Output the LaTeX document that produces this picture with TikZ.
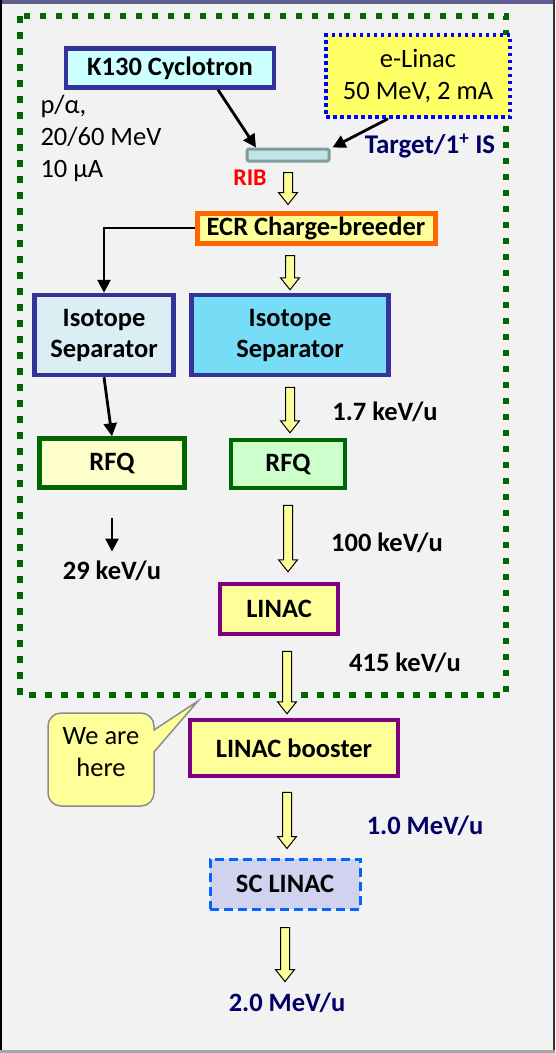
\documentclass[tikz,border=0pt]{standalone}
\usepackage{fontspec}
\setmainfont{Carlito}
\usetikzlibrary{calc, arrows.meta}

\definecolor{bgcol}{HTML}{F2F2F2}
\definecolor{bandcol}{HTML}{5F5F8F}
\definecolor{navyline}{HTML}{333399}
\definecolor{navytext}{HTML}{000066}
\definecolor{dkgreen}{HTML}{006600}
\definecolor{paleyellow}{HTML}{FFFF99}
\definecolor{brightyellow}{HTML}{FFFF66}
\definecolor{creamyellow}{HTML}{FFFFCC}
\definecolor{palecyan}{HTML}{CCFFFF}
\definecolor{isogrey}{HTML}{DAEEF3}
\definecolor{isocyan}{HTML}{77DDF7}
\definecolor{mint}{HTML}{CCFFCC}
\definecolor{ecrorange}{HTML}{FF6600}
\definecolor{linacpurple}{HTML}{800080}
\definecolor{lavender}{HTML}{D0D2F0}
\definecolor{scblue}{HTML}{0066FF}
\definecolor{barfill}{HTML}{C2E4E4}
\definecolor{barline}{HTML}{809C9C}

\newcommand{\lblfont}{\fontsize{26.5}{31}\selectfont\bfseries}
\newcommand{\txtfont}{\fontsize{26.5}{32}\selectfont}

\begin{document}
\begin{tikzpicture}[x=1pt, y=-1pt,
    box/.style={line width=4.5pt, inner sep=0pt, font=\lblfont, align=center},
    blk/.style={line width=2.8pt, -{Triangle[length=13pt,width=13pt]}},
    fatarrow/.style={draw=black, line width=1pt, fill=paleyellow, line join=miter,
      to path={let \p1=(\tikztostart), \p2=(\tikztotarget) in
        (\x1-4.5pt,\y1) -- (\x1-4.5pt,\y2+12pt) -- (\x1-9.5pt,\y2+12pt) -- (\x1,\y2)
        -- (\x1+9.5pt,\y2+12pt) -- (\x1+4.5pt,\y2+12pt) -- (\x1+4.5pt,\y1) -- cycle}},
    energy/.style={font=\lblfont},
    greendots/.style={draw=dkgreen, line width=6.5pt, dash pattern=on 6.5pt off 9.5pt}]

    % --- background and frame ---
    \useasboundingbox (0,0) rectangle (555,1053);
    \fill[bgcol] (0,0) rectangle (555,1053);
    \fill[bandcol] (0,0) rectangle (555,3.5);
    \draw[black, line width=2pt] (1,0) -- (1,1053);
    \draw[black!80, line width=2pt] (554,0) -- (554,1053);
    \draw[black!35, line width=3pt] (0,1051.5) -- (555,1051.5);

    % --- dotted green frame ---
    \draw[greendots] (20,16) rectangle (506,695);

    % --- sources ---
    \node[box, draw=navyline, fill=palecyan, minimum width=208pt, minimum height=39pt]
        (k130) at (170,68) {K130 Cyclotron};
    \node[box, draw=blue, fill=brightyellow, line width=3.5pt, dash pattern=on 3.5pt off 3.5pt,
        font=\txtfont, minimum width=184pt, minimum height=82pt]
        (elinac) at (418,76) {e-Linac\\50 MeV, 2 mA};
    \node[font=\txtfont, align=left, anchor=west] (beam) at (37,138) {p/α,\\20/60 MeV\\10 μA};

    % --- target ---
    \node[draw=barline, fill=barfill, line width=3pt, rounded corners=1.5pt,
        minimum width=82pt, minimum height=12pt, inner sep=0pt] (target) at (288,155) {};
    \node[font=\fontsize{24}{28}\selectfont\bfseries, text=red] (rib) at (250,178) {RIB};
    \node[font=\fontsize{27}{32}\selectfont\bfseries, text=navytext] (tis) at (430,146)
        {Target/1\textsuperscript{+} IS};

    \draw[blk] ([xshift=48pt]k130.south) -- ([xshift=-32pt]target.north);
    \draw[blk] ([xshift=-30pt]elinac.south) -- ([xshift=2pt]target.north east);

    % --- charge breeder and separators ---
    \node[box, draw=ecrorange, fill=paleyellow, line width=5pt, minimum width=238pt, minimum height=30pt]
        (ecr) at (316,228) {ECR Charge-breeder};
    \node[box, draw=navyline, fill=isogrey, minimum width=139pt, minimum height=80pt]
        (isoL) at (104,335) {Isotope\\Separator};
    \node[box, draw=navyline, fill=isocyan, minimum width=197pt, minimum height=80pt]
        (isoR) at (290,335) {Isotope\\Separator};

    \draw[fatarrow] ([yshift=-10pt]target.south) to ([yshift=6pt]ecr.north);
    \draw[blk] (ecr.west) -| (isoL.north);
    \draw[fatarrow] ([yshift=-10pt]isoR.north |- ecr.south) to ([yshift=3pt]isoR.north);

    % --- RFQs ---
    \node[box, draw=dkgreen, fill=creamyellow, minimum width=145pt, minimum height=49pt]
        (rfqL) at (112,463) {RFQ};
    \node[box, draw=dkgreen, fill=mint, minimum width=114pt, minimum height=48pt]
        (rfqR) at (288,464) {RFQ};

    \draw[blk] (isoL.south) -- (rfqL.north);
    \draw[fatarrow] ([yshift=-10pt]isoR.south) to ([yshift=5pt]rfqR.north);
    \node[energy] (kev17) at (385,412) {1.7 keV/u};

    \node[energy] (kev29) at (112,571) {29 keV/u};
    \draw[blk] ([yshift=-28pt]rfqL.south) -- ([yshift=6pt]kev29.north);

    % --- LINACs ---
    \node[box, draw=linacpurple, fill=paleyellow, minimum width=118pt, minimum height=50pt]
        (linac) at (279,609) {LINAC};
    \draw[fatarrow] ([yshift=-15pt]rfqR.south) to ([yshift=10pt]linac.north);
    \node[energy] (kev100) at (387,543) {100 keV/u};

    \node[box, draw=linacpurple, fill=paleyellow, minimum width=208pt, minimum height=56pt]
        (booster) at (294,748) {LINAC booster};
    \draw[fatarrow] ([yshift=-15pt,xshift=8pt]linac.south) to ([yshift=4pt]booster.north);
    \node[energy] (kev415) at (405,663) {415 keV/u};

    \node[box, draw=scblue, fill=lavender, line width=3pt, dash pattern=on 9pt off 5pt,
        minimum width=150pt, minimum height=50pt] (sclinac) at (285,884) {SC LINAC};
    \draw[fatarrow] ([yshift=-14pt,xshift=-7pt]booster.south) to ([yshift=9pt]sclinac.north);
    \node[energy, text=navytext] (mev1) at (425,826) {1.0 MeV/u};

    \node[energy, text=navytext] (mev2) at (287,1003) {2.0 MeV/u};
    \draw[fatarrow] ([yshift=-17pt]sclinac.south) to ([yshift=8pt]mev2.north);

    % --- callout ---
    \coordinate (us) at (198,701);
    \draw[draw=black!45, line width=1.5pt, fill=paleyellow]
        (100,713) [rounded corners=13pt] -- (154,713) [sharp corners] -- (154,730)
        -- (us) -- (154,752) [rounded corners=13pt] -- (154,806) -- (48,806)
        -- (48,713) [sharp corners] -- (100,713);
    \node[font=\txtfont, align=center] (here) at (101,752) {We are\\here};
\end{tikzpicture}
\end{document}
